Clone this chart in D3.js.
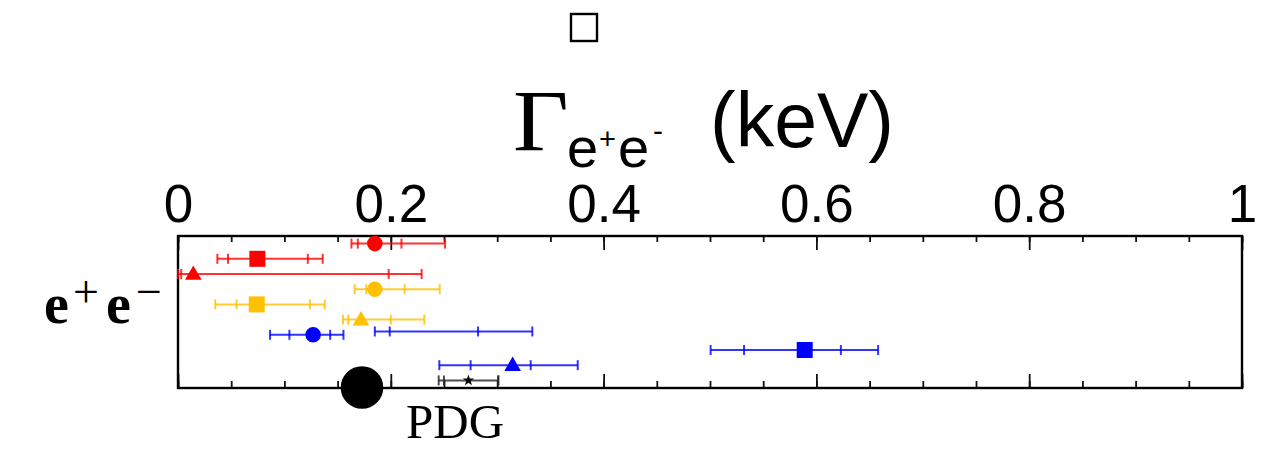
<!DOCTYPE html>
<html><head><meta charset="utf-8">
<script src="https://cdn.jsdelivr.net/npm/d3@7"></script>
<style>body{margin:0;background:#fff}svg{display:block}</style>
</head><body>
<script>
// ---- data ----
const rows      = [0, 1, 2, 3, 4, 5, 6, 5.78, 7, 8, 9];
const groups    = ["red","red","red","yellow","yellow","yellow","blue","blue","blue","blue","pdg"];
const markers   = ["circle","square","triangle","circle","square","triangle","circle","none","square","triangle","star"];
const centers   = [0.185, 0.0746, 0.0144, 0.185, 0.074, 0.172, 0.127, 0.240, 0.589, 0.3145, 0.273];
const innerLo   = [0.169, 0.047, 0.003, 0.177, 0.055, 0.160, 0.1047, 0.199, 0.532, 0.275, 0.250];
const innerHi   = [0.210, 0.122, 0.198, 0.213, 0.124, 0.200, 0.143, 0.282, 0.623, 0.3315, 0.301];
const outerLo   = [0.163, 0.037, 0.000, 0.166, 0.035, 0.155, 0.0865, 0.185, 0.5006, 0.2456, 0.245];
const outerHi   = [0.251, 0.136, 0.229, 0.246, 0.138, 0.2315, 0.1555, 0.333, 0.658, 0.3757, 0.301];
const majorTicks = [0, 0.2, 0.4, 0.6, 0.8, 1];
const minorTicks = d3.range(0, 1.0001, 0.05);
const tickLabels = ["0", "0.2", "0.4", "0.6", "0.8", "1"];

const W = 1276, H = 451;
const L = 178, R = 1242, T = 236, B = 388;

const svg = d3.select("body").append("svg").attr("width", W).attr("height", H)
  .style("font-family", "'Liberation Sans', Arial, sans-serif");
svg.append("rect").attr("width", W).attr("height", H).attr("fill", "#fff");

const x = d3.scaleLinear().domain([0, 1]).range([L, R]);
const y = d3.scaleLinear().domain([-0.5, 9.5]).range([T, B]);
const color = d3.scaleOrdinal().domain(["red","yellow","blue","pdg"]).range(["#ff0000","#ffc000","#0000ff","#222222"]);
const symMap = {circle: d3.symbolCircle, square: d3.symbolSquare, triangle: d3.symbolTriangle, star: d3.symbolStar};
const symSize = {circle: 190, square: 256, triangle: 120, star: 40};

// ---- axes ----
const topMinor = svg.append("g").attr("transform", `translate(0,${T})`)
  .call(d3.axisTop(x).tickValues(minorTicks).tickSize(-6).tickFormat(""));
const topMajor = svg.append("g").attr("transform", `translate(0,${T})`)
  .call(d3.axisTop(x).tickValues(majorTicks).tickSize(-14).tickPadding(14)
        .tickFormat((d, i) => tickLabels[i]));
const botMinor = svg.append("g").attr("transform", `translate(0,${B})`)
  .call(d3.axisBottom(x).tickValues(minorTicks).tickSize(-7).tickFormat(""));
const botMajor = svg.append("g").attr("transform", `translate(0,${B})`)
  .call(d3.axisBottom(x).tickValues(majorTicks).tickSize(-14).tickFormat(""));
[topMinor, topMajor, botMinor, botMajor].forEach(g => {
  g.select(".domain").remove();
  g.selectAll(".tick line").attr("stroke", "#111").attr("stroke-width", 1.8);
});
topMajor.selectAll(".tick text").attr("font-size", 53).attr("fill", "#000")
  .attr("font-family", "'Liberation Sans', Arial, sans-serif");

// frame
svg.append("rect").attr("x", L).attr("y", T).attr("width", R - L).attr("height", B - T)
  .attr("fill", "none").attr("stroke", "#000").attr("stroke-width", 2.4);

// ---- error bars ----
const data = rows.map((r, i) => ({r, g: groups[i], m: markers[i], c: centers[i],
  il: innerLo[i], ih: innerHi[i], ol: outerLo[i], oh: outerHi[i]}));

const eb = svg.append("g");
data.forEach(d => {
  const col = color(d.g), yy = y(d.r);
  const g = eb.append("g").attr("stroke", col).attr("stroke-opacity", 0.8).attr("stroke-width", 2);
  g.append("line").attr("x1", x(d.ol)).attr("x2", x(d.oh)).attr("y1", yy).attr("y2", yy);
  [d.ol, d.il, d.ih, d.oh].forEach(v => {
    g.append("line").attr("x1", x(v)).attr("x2", x(v)).attr("y1", yy - 5).attr("y2", yy + 5);
  });
});

// markers
svg.append("g").selectAll("path").data(data.filter(d => d.m !== "none")).join("path")
  .attr("d", d => d3.symbol(symMap[d.m], symSize[d.m])())
  .attr("transform", d => `translate(${x(d.c)},${y(d.r) + (d.m === "triangle" ? 1 : 0)})`)
  .attr("fill", d => d.g === "pdg" ? "#000" : color(d.g));

// ---- texts ----
// small hollow box above the title
svg.append("rect").attr("x", 571).attr("y", 14).attr("width", 26).attr("height", 27)
  .attr("fill", "none").attr("stroke", "#000").attr("stroke-width", 2.4);

// title Γ_{e+e-} (keV)
svg.append("text").attr("x", 513).attr("y", 150).attr("font-family", "'Liberation Serif', 'Times New Roman', serif")
  .attr("font-size", 86).attr("transform", "translate(513,0) scale(1.12,1) translate(-513,0)").text("Γ");
svg.append("text").attr("x", 567).attr("y", 167).attr("font-size", 56).text("e");
svg.append("text").attr("x", 599).attr("y", 149).attr("font-size", 29).text("+");
svg.append("text").attr("x", 618).attr("y", 167).attr("font-size", 56).text("e");
svg.append("text").attr("x", 653).attr("y", 141).attr("font-size", 30).text("-");
svg.append("text").attr("x", 710).attr("y", 147).attr("font-size", 77).text("(keV)");

// y label e+e−
const serif = "'Liberation Serif', 'Times New Roman', serif";
svg.append("text").attr("x", 44).attr("y", 323).attr("font-family", serif).attr("font-weight", "bold").attr("font-size", 56).text("e");
svg.append("text").attr("x", 73).attr("y", 307).attr("font-family", serif).attr("font-size", 46).text("+");
svg.append("text").attr("x", 106).attr("y", 323).attr("font-family", serif).attr("font-weight", "bold").attr("font-size", 56).text("e");
svg.append("text").attr("x", 136).attr("y", 307).attr("font-family", serif).attr("font-size", 46).text("−");

// PDG marker and label
svg.append("circle").attr("cx", 362).attr("cy", 387.5).attr("r", 21.3).attr("fill", "#000");
svg.append("text").attr("x", 406).attr("y", 438).attr("font-family", serif).attr("font-size", 49).text("PDG");
</script>
</body></html>
